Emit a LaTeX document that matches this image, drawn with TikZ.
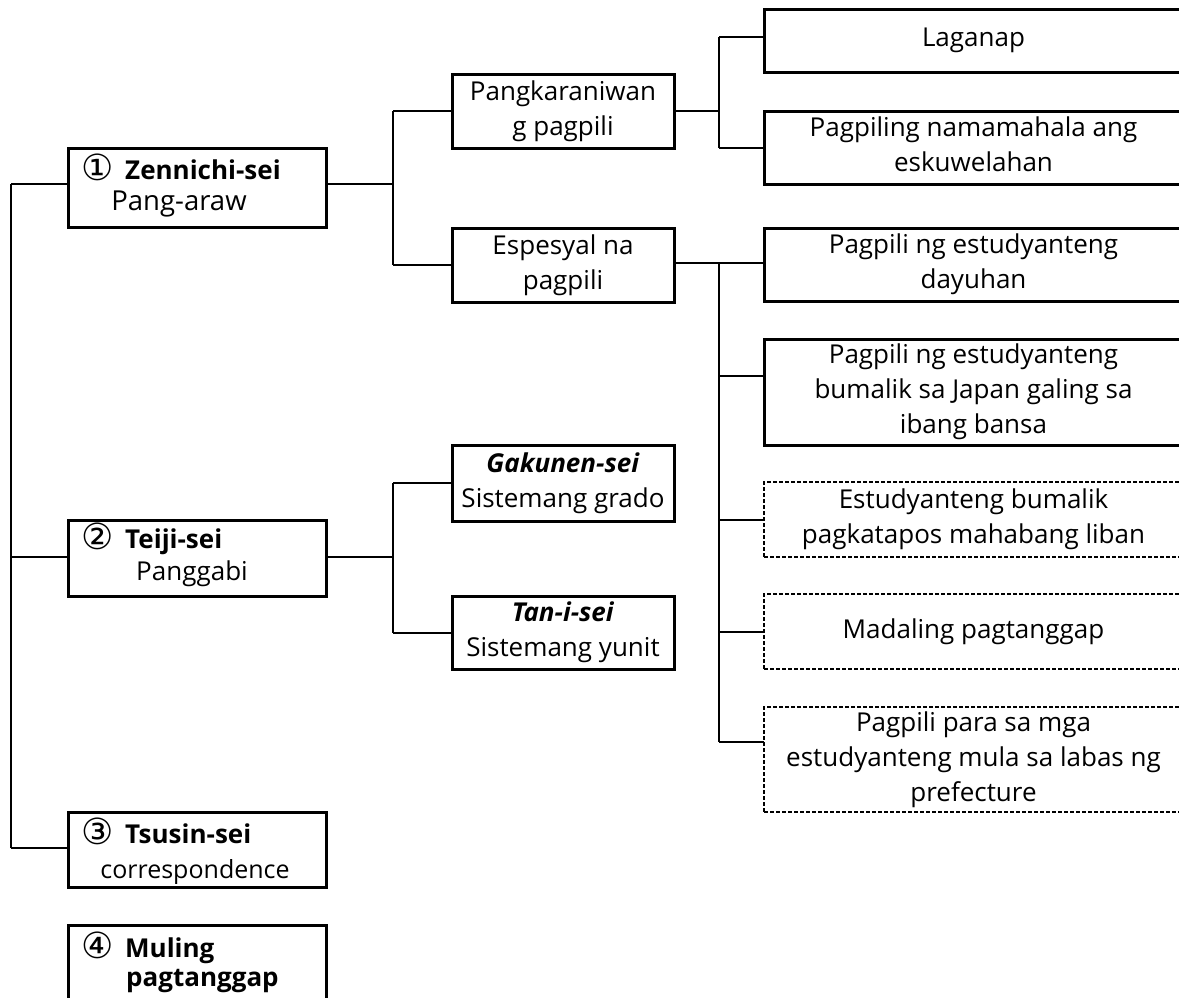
\documentclass[tikz,border=0pt]{standalone}
\usepackage{fontspec}
\setmainfont{Open Sans}
\newfontfamily\symfont{DejaVu Sans}
\newcommand\rs{\rule[-6.5pt]{0pt}{24.5pt}}
\newcommand\circnum[1]{\makebox[44pt][l]{\raisebox{-1pt}{\symfont\fontsize{36}{40}\selectfont #1}}}
\tikzset{
  solidbox/.style={draw, line width=3pt, inner sep=0pt, outer sep=0pt, anchor=north west,
    font=\fontsize{26}{35}\selectfont, align=center},
  dashbox/.style={draw, line width=1.8pt, dash pattern=on 4pt off 2pt, inner sep=0pt,
    outer sep=0pt, anchor=north west, font=\fontsize{26}{35}\selectfont, align=center},
  leftbox/.style={solidbox, minimum width=258pt},
  midbox/.style={solidbox, minimum width=222pt},
  rightbox/.style={solidbox, minimum width=419pt},
  rightdash/.style={dashbox, minimum width=419pt},
  lbl/.style={inner sep=0pt, font=\fontsize{26}{35}\selectfont},
  conn/.style={line width=2pt},
}
\begin{document}
\begin{tikzpicture}[x=1pt,y=-1pt]
\useasboundingbox (0,0) rectangle (1179,997);
\clip (0,0) rectangle (1179,997);
\fill[white] (0,0) rectangle (1179,997);

% left column boxes
\node[leftbox, minimum height=79pt] (Z) at (68,148) {};
\node[leftbox, minimum height=76pt] (T) at (68,520) {};
\node[leftbox, minimum height=75pt] (Ts) at (68,812) {};
\node[leftbox, minimum height=90pt] (Mu) at (68,925) {};

\node[lbl, anchor=base west] (Z1) at (81,179) {\circnum{①}\textbf{Zennichi-sei}};
\node[lbl, anchor=base] (Z2) at (179,210) {\fontsize{27.5}{35}\selectfont Pang-araw};
\node[lbl, anchor=base west] (T1) at (81,548) {\circnum{②}\textbf{Teiji-sei}};
\node[lbl, anchor=base] (T2) at (192,580) {Panggabi};
\node[lbl, anchor=base west] (Ts1) at (81,843) {\circnum{③}\textbf{Tsusin-sei}};
\node[lbl, anchor=base] (Ts2) at (195,878) {\fontsize{25}{35}\selectfont correspondence};
\node[lbl, anchor=base west] (Mu1) at (81,957) {\circnum{④}\textbf{Muling}};
\node[lbl, anchor=base west] (Mu2) at (126,986) {\textbf{pagtanggap}};

% middle column boxes
\node[midbox, minimum height=74pt] (Pk) at (452,74) {\rs Pangkaraniwan\\\rs g pagpili};
\node[midbox, minimum height=74pt] (Es) at (452,228) {\rs Espesyal na\\\rs pagpili};
\node[midbox, minimum height=76pt] (Ga) at (452,445) {\rs\textbf{\textit{Gakunen-sei}}\\\rs Sistemang grado};
\node[midbox, minimum height=73pt] (Ta) at (452,596) {\rs\textbf{\textit{Tan-i-sei}}\\\rs Sistemang yunit};

% right column boxes
\node[rightbox, minimum height=63pt] (La) at (764,9) {\rs Laganap};
\node[rightbox, minimum height=73pt] (Pn) at (764,111) {\rs Pagpiling namamahala ang\\\rs eskuwelahan};
\node[rightbox, minimum height=73pt] (Pd) at (764,228) {\rs Pagpili ng estudyanteng\\\rs dayuhan};
\node[rightbox, minimum height=106pt] (Pj) at (764,339) {\rs Pagpili ng estudyanteng\\\rs bumalik sa Japan galing sa\\\rs ibang bansa};
\node[rightdash, minimum height=75pt] (Eb) at (764,482) {\rs Estudyanteng bumalik\\\rs pagkatapos mahabang liban};
\node[rightdash, minimum height=75pt] (Ma) at (764,594) {\rs Madaling pagtanggap};
\node[rightdash, minimum height=105pt] (Pa) at (764,707) {\rs Pagpili para sa mga\\\rs estudyanteng mula sa labas ng\\\rs prefecture};

% branch points
\coordinate (sp) at (11,184);
\coordinate (bZ) at (393,184);
\coordinate (bT) at (393,557);
\coordinate (bPk) at (719,111);
\coordinate (bEs) at (719,263);
\coordinate (sTs) at (11,848);

% spine
\draw[conn] (sp) -- (sTs);
\draw[conn] (sp) -- (sp -| Z.west);
\draw[conn] (sp |- bT) -- (bT -| T.west);
\draw[conn] (sTs) -- (sTs -| Ts.west);

% Zennichi branch
\draw[conn] (bZ -| Z.east) -- (bZ);
\draw[conn] (bZ |- Pk.west) -- (bZ |- Es.west);
\draw[conn] (bZ |- Pk.west) -- (Pk.west);
\draw[conn] (bZ |- Es.west) -- (Es.west);

% Teiji branch
\draw[conn] (bT -| T.east) -- (bT);
\draw[conn] (bT |- Ga.west) -- (bT |- Ta.west);
\draw[conn] (bT |- Ga.west) -- (Ga.west);
\draw[conn] (bT |- Ta.west) -- (Ta.west);

% Pangkaraniwan branch
\draw[conn] (bPk -| Pk.east) -- (bPk);
\draw[conn] ([yshift=3.5pt]bPk |- La.west) -- (bPk |- Pn.west);
\draw[conn] ([yshift=3.5pt]bPk |- La.west) -- ([yshift=3.5pt]La.west);
\draw[conn] (bPk |- Pn.west) -- (Pn.west);

% Espesyal branch
\draw[conn] (bEs -| Es.east) -- (bEs -| Pd.west);
\draw[conn] (bEs) -- ([yshift=18pt]bEs |- Pa.west);
\draw[conn] ([yshift=16pt]bEs |- Pj.west) -- ([yshift=16pt]Pj.west);
\draw[conn] (bEs |- Eb.west) -- (Eb.west);
\draw[conn] (bEs |- Ma.west) -- (Ma.west);
\draw[conn] ([yshift=18pt]bEs |- Pa.west) -- ([yshift=18pt]Pa.west);
\end{tikzpicture}
\end{document}
